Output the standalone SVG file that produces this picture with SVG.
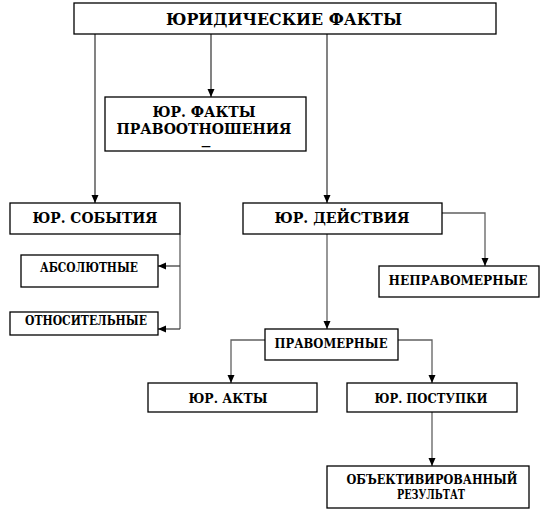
<svg xmlns="http://www.w3.org/2000/svg" width="548" height="519" viewBox="0 0 548 519">
<style>
.box{fill:#fff;stroke:#000;stroke-width:1.3}
.t{font-family:"DejaVu Serif","Liberation Serif",serif;font-weight:bold;fill:#000;text-anchor:middle}
.l{font-size:17px}
.m{font-size:15px}
.s{font-size:12.5px}
.c{fill:none;stroke:#404040;stroke-width:1.3}
.c2{fill:none;stroke:#606060;stroke-width:1.3}
</style>
<defs>
<marker id="ah" viewBox="0 0 8 8" refX="8" refY="4" markerWidth="8" markerHeight="8" markerUnits="userSpaceOnUse" orient="auto">
<path d="M0,0.5 L8,4 L0,7.5 Z" fill="#000"/>
</marker>
</defs>
<g id="connectors">
<path class="c" d="M95,34 V203" marker-end="url(#ah)"/>
<path class="c" d="M211,34 V97" marker-end="url(#ah)"/>
<path class="c" d="M327,34 V203" marker-end="url(#ah)"/>
<path class="c2" d="M180,234 V329"/>
<path class="c" d="M180,266 H158" marker-end="url(#ah)"/>
<path class="c" d="M180,329 H158" marker-end="url(#ah)"/>
<path class="c2" d="M442,213 H485 V266" marker-end="url(#ah)"/>
<path class="c2" d="M327,234 V329" marker-end="url(#ah)"/>
<path class="c2" d="M265,340 H231 V383" marker-end="url(#ah)"/>
<path class="c2" d="M398,340 H432 V383" marker-end="url(#ah)"/>
<path class="c2" d="M432,412 V466" marker-end="url(#ah)"/>
</g>
<g id="n-facts">
<rect class="box" x="74" y="3" width="422" height="31"/>
<text class="t l" x="284" y="25" textLength="236" lengthAdjust="spacingAndGlyphs">ЮРИДИЧЕСКИЕ ФАКТЫ</text>
</g>
<g id="n-pravootn">
<rect class="box" x="105" y="97" width="201" height="54"/>
<text class="t m" x="204" y="117" textLength="103" lengthAdjust="spacingAndGlyphs">ЮР. ФАКТЫ</text>
<text class="t m" x="204" y="134" textLength="175" lengthAdjust="spacingAndGlyphs">ПРАВООТНОШЕНИЯ</text>
<text class="t" style="font-size:10px" x="206" y="149" textLength="11" lengthAdjust="spacingAndGlyphs">–</text>
</g>
<g id="n-sobytiya">
<rect class="box" x="10" y="203" width="170" height="31"/>
<text class="t m" x="95" y="223" textLength="125" lengthAdjust="spacingAndGlyphs">ЮР. СОБЫТИЯ</text>
</g>
<g id="n-deistviya">
<rect class="box" x="243" y="203" width="199" height="31"/>
<text class="t m" x="342" y="223" textLength="135" lengthAdjust="spacingAndGlyphs">ЮР. ДЕЙСТВИЯ</text>
</g>
<g id="n-absolut">
<rect class="box" x="21" y="255" width="137" height="32"/>
<text class="t s" x="89" y="272" textLength="98" lengthAdjust="spacingAndGlyphs">АБСОЛЮТНЫЕ</text>
</g>
<g id="n-otnosit">
<rect class="box" x="10" y="312" width="148" height="23"/>
<text class="t s" x="86" y="325" textLength="122" lengthAdjust="spacingAndGlyphs">ОТНОСИТЕЛЬНЫЕ</text>
</g>
<g id="n-nepravomer">
<rect class="box" x="379" y="266" width="160" height="31"/>
<text class="t s" x="458" y="285" textLength="139" lengthAdjust="spacingAndGlyphs">НЕПРАВОМЕРНЫЕ</text>
</g>
<g id="n-pravomer">
<rect class="box" x="265" y="329" width="133" height="31"/>
<text class="t s" x="331" y="348" textLength="113" lengthAdjust="spacingAndGlyphs">ПРАВОМЕРНЫЕ</text>
</g>
<g id="n-akty">
<rect class="box" x="148" y="383" width="169" height="29"/>
<text class="t s" x="228" y="403" textLength="79" lengthAdjust="spacingAndGlyphs">ЮР. АКТЫ</text>
</g>
<g id="n-postupki">
<rect class="box" x="347" y="383" width="170" height="29"/>
<text class="t s" x="431" y="403" textLength="113" lengthAdjust="spacingAndGlyphs">ЮР. ПОСТУПКИ</text>
</g>
<g id="n-result">
<rect class="box" x="327" y="466" width="202" height="42"/>
<text class="t s" x="432" y="484" textLength="171" lengthAdjust="spacingAndGlyphs">ОБЪЕКТИВИРОВАННЫЙ</text>
<text class="t s" x="431" y="499" textLength="68" lengthAdjust="spacingAndGlyphs">РЕЗУЛЬТАТ</text>
</g>
</svg>
